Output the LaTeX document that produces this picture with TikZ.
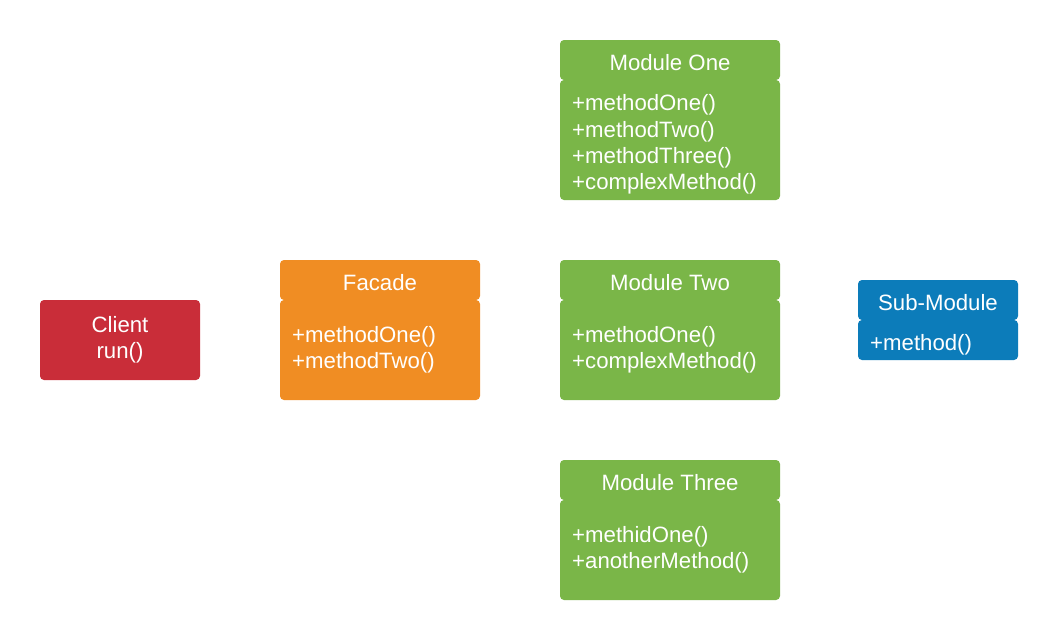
\documentclass[tikz,border=0pt]{standalone}
\usepackage{fontspec}
\setmainfont{Liberation Sans}
\definecolor{cgreen}{HTML}{7AB648}
\definecolor{corange}{HTML}{F08D23}
\definecolor{cred}{HTML}{C92D39}
\definecolor{cblue}{HTML}{0C7CBA}
\tikzset{
  x=1pt, y=-1pt,
  txtfont/.style={font=\fontsize{22.2}{26.4}\selectfont},
  box/.style={rounded corners=4pt, inner sep=0pt, outer sep=0pt, text=white, txtfont},
  head/.style={box, minimum height=40pt, align=center, text height=21pt, text depth=0pt},
  body/.style={box, align=left},
  members/.style={anchor=west, text=white, txtfont, align=left, inner sep=0pt, yshift=-3pt},
}
\begin{document}
\begin{tikzpicture}
\useasboundingbox[fill=white] (0,0) rectangle (1059,640);
% Client
\node[box, fill=cred, minimum width=160pt, minimum height=80pt, align=center] (client) at (120,340) {Client\\run()};
% Facade
\node[body, fill=corange, minimum width=200pt, minimum height=100pt] (facadeB) at (380,350) {};
\node[head, fill=corange, minimum width=200pt] (facadeH) at (380,280) {Facade};
\node[members] (facadeT) at (292,347) {+methodOne()\\+methodTwo()};
% Module One
\node[body, fill=cgreen, minimum width=220pt, minimum height=120pt] (m1B) at (670,140) {};
\node[head, fill=cgreen, minimum width=220pt] (m1H) at (670,60) {Module One};
\node[members] (m1T) at (572,141.5) {+methodOne()\\+methodTwo()\\+methodThree()\\+complexMethod()};
% Module Two
\node[body, fill=cgreen, minimum width=220pt, minimum height=100pt] (m2B) at (670,350) {};
\node[head, fill=cgreen, minimum width=220pt] (m2H) at (670,280) {Module Two};
\node[members] (m2T) at (572,347) {+methodOne()\\+complexMethod()};
% Module Three
\node[body, fill=cgreen, minimum width=220pt, minimum height=100pt] (m3B) at (670,550) {};
\node[head, fill=cgreen, minimum width=220pt] (m3H) at (670,480) {Module Three};
\node[members] (m3T) at (572,547) {+methidOne()\\+anotherMethod()};
% Sub-Module
\node[body, fill=cblue, minimum width=160pt, minimum height=40pt] (subB) at (938,340) {};
\node[head, fill=cblue, minimum width=160pt] (subH) at (938,300) {Sub-Module};
\node[members] (subT) at (870,342) {+method()};
\end{tikzpicture}
\end{document}
